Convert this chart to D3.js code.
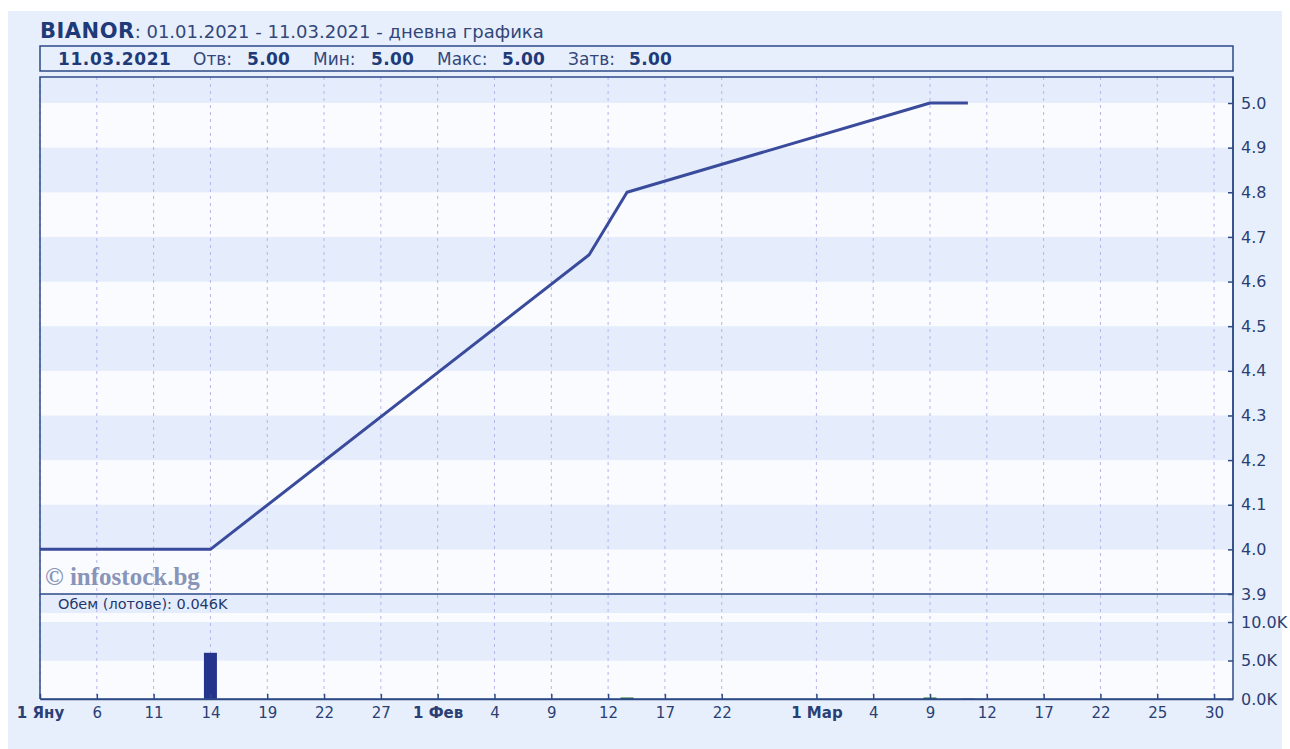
<!DOCTYPE html>
<html><head><meta charset="utf-8">
<script src="https://cdn.jsdelivr.net/npm/d3@7"></script>
<style>
html,body{margin:0;padding:0;background:#fff;}
svg{display:block;}
</style></head>
<body>
<svg id="c" width="1290" height="749"></svg>
<script>
// ---- data ----
const priceDates  = ["2021-01-01","2021-01-14","2021-02-11","2021-02-15","2021-03-09","2021-03-11"];
const priceValues = [4.00, 4.00, 4.66, 4.80, 5.00, 5.00];
const volumeDates  = ["2021-01-14","2021-02-15","2021-03-09","2021-03-11"];
const volumeValues = [6.0, 0.2, 0.2, 0.046]; // thousands of lots
const xTickDates  = ["2021-01-01","2021-01-06","2021-01-11","2021-01-14","2021-01-19","2021-01-22","2021-01-27",
                     "2021-02-01","2021-02-04","2021-02-09","2021-02-12","2021-02-17","2021-02-22",
                     "2021-03-01","2021-03-04","2021-03-09","2021-03-12","2021-03-17","2021-03-22","2021-03-25","2021-03-30"];
const xTickLabels = ["1 Яну","6","11","14","19","22","27","1 Фев","4","9","12","17","22",
                     "1 Мар","4","9","12","17","22","25","30"];
const yTicks = [3.9,4.0,4.1,4.2,4.3,4.4,4.5,4.6,4.7,4.8,4.9,5.0];
const volTicks = [0,5,10];
const titleSymbol = "BIANOR";
const titleRange = ": 01.01.2021 - 11.03.2021 - дневна графика";
const infoItems = [["","11.03.2021"],["Отв:","5.00"],["Мин:","5.00"],["Макс:","5.00"],["Затв:","5.00"]];
const volLabel = "Обем (лотове): 0.046K";

// ---- helpers ----
const start = new Date(Date.UTC(2021,0,1));
function wd(s){ // weekday index since 1 Jan 2021
  const d = new Date(s+"T00:00:00Z"); let n=0;
  for(let t=new Date(start); t<d; t.setUTCDate(t.getUTCDate()+1)){const g=t.getUTCDay(); if(g!==0&&g!==6) n++;}
  return n;
}
const NAVY="#2d4a86", TXT="#24386e", BLUE_BAND="#e5edfc", WHITE_BAND="#fafbff", BG="#e8effc";
const L=40, R=1233, TOP=77, MID=594, BOT=699;

const svg=d3.select("#c");
svg.append("rect").attr("x",8).attr("y",11).attr("width",1274).attr("height",738).attr("fill",BG);

const x=d3.scaleLinear().domain([0,63]).range([L,R]);
const y=d3.scaleLinear().domain([3.9,5.0]).range([MID,103]);
const yv=d3.scaleLinear().domain([0,10]).range([BOT,622]);

// title
const t=svg.append("text").attr("x",40).attr("y",38).attr("font-family","DejaVu Sans").attr("font-size",18).attr("fill",TXT);
t.append("tspan").attr("font-weight","bold").attr("fill","#1f3a78").attr("font-size",21).attr("letter-spacing",0.5).text(titleSymbol);
t.append("tspan").attr("fill","#33477a").text(titleRange);

// info box
svg.append("rect").attr("x",L).attr("y",46).attr("width",R-L).attr("height",25).attr("fill",BG).attr("stroke",NAVY).attr("stroke-width",1.5);
const infoX=[[null,58],[193,247],[313,371],[437,502],[568,629]];
infoItems.forEach((it,i)=>{
  if(it[0]) svg.append("text").attr("x",infoX[i][0]).attr("y",65).attr("font-family","DejaVu Sans").attr("font-size",17).attr("fill","#33477a").text(it[0]);
  svg.append("text").attr("x",infoX[i][1]).attr("y",65).attr("font-family","DejaVu Sans").attr("font-size",17).attr("font-weight","bold")
    .attr("letter-spacing",i===0?0.6:0.3).attr("fill","#1f3a78").text(it[1]);
});

// main plot bands
const bandsG=svg.append("g");
for(let i=0;i<12;i++){
  const v0=3.9+i*0.1, v1=v0+0.1;
  const yTop=Math.max(TOP,y(v1));
  bandsG.append("rect").attr("x",L).attr("width",R-L).attr("y",yTop).attr("height",y(v0)-yTop)
    .attr("fill",i%2===0?WHITE_BAND:BLUE_BAND);
}
// volume bands
const vb=[[0,5,WHITE_BAND],[5,10,BLUE_BAND],[10,15,WHITE_BAND]];
vb.forEach(b=>{const yt=Math.max(613,yv(b[1])); bandsG.append("rect").attr("x",L).attr("width",R-L).attr("y",yt).attr("height",yv(b[0])-yt).attr("fill",b[2]);});
bandsG.append("rect").attr("x",L).attr("width",R-L).attr("y",MID).attr("height",613-MID).attr("fill",BLUE_BAND);

// vertical grid
const tickX=xTickDates.map(d=>x(wd(d)));
svg.append("g").selectAll("line").data(tickX).join("line")
  .attr("x1",d=>d).attr("x2",d=>d).attr("y1",TOP).attr("y2",BOT)
  .attr("stroke","#b4b4ec").attr("stroke-width",1).attr("stroke-dasharray","3,4");

// watermark
svg.append("text").attr("x",45).attr("y",585).attr("font-family","Liberation Serif").attr("font-weight","bold")
  .attr("font-size",25).attr("fill","#8894b8").text("© infostock.bg");

// volume label
svg.append("text").attr("x",58).attr("y",609).attr("font-family","DejaVu Sans").attr("font-size",14.5).attr("fill","#24386e").text(volLabel);

// volume bars
const priceByDate={}; priceDates.forEach((d,i)=>priceByDate[d]=i);
svg.append("g").selectAll("rect").data(volumeDates.map((d,i)=>({d,v:volumeValues[i]}))).join("rect")
  .attr("x",p=>x(wd(p.d))-6.5).attr("width",13)
  .attr("y",p=>yv(p.v)).attr("height",p=>BOT-yv(p.v))
  .attr("fill",p=>{const i=priceByDate[p.d]; return (i>0&&priceValues[i]>priceValues[i-1])?"#2e7d32":"#24348c";});

// price line
const pts=priceDates.map((d,i)=>[x(wd(d)),y(priceValues[i])]);
svg.append("path").attr("d",d3.line()(pts)).attr("fill","none").attr("stroke","#3a4b9c").attr("stroke-width",3).attr("stroke-linejoin","round");

// borders
svg.append("rect").attr("x",L).attr("y",TOP).attr("width",R-L).attr("height",MID-TOP).attr("fill","none").attr("stroke",NAVY).attr("stroke-width",1.5);
svg.append("line").attr("x1",L).attr("x2",L).attr("y1",MID).attr("y2",BOT).attr("stroke",NAVY).attr("stroke-width",1.5);

// right axes
const ax=svg.append("g").attr("transform",`translate(${R},0)`)
  .call(d3.axisRight(y).tickValues(yTicks).tickFormat(d3.format(".1f")).tickSizeInner(-5).tickSizeOuter(0).tickPadding(8));
const ax2=svg.append("g").attr("transform",`translate(${R},0)`)
  .call(d3.axisRight(yv).tickValues(volTicks).tickFormat(d=>d.toFixed(1)+"K").tickSizeInner(-5).tickSizeOuter(0).tickPadding(8));
[ax,ax2].forEach(a=>{a.select(".domain").remove(); a.selectAll("line").attr("stroke",NAVY).attr("stroke-width",1.5);
  a.selectAll("text").attr("font-family","DejaVu Sans").attr("font-size",16).attr("fill","#2b3f75");});
svg.append("line").attr("x1",R).attr("x2",R).attr("y1",TOP).attr("y2",BOT).attr("stroke",NAVY).attr("stroke-width",1.5);

// bottom axis
const bx=svg.append("g").attr("transform",`translate(0,${BOT})`)
  .call(d3.axisBottom(x).tickValues(xTickDates.map(wd)).tickFormat((d,i)=>xTickLabels[i]).tickSizeInner(-5).tickSizeOuter(0).tickPadding(8));
bx.select(".domain").attr("stroke",NAVY).attr("stroke-width",1.5);
bx.selectAll("line").attr("stroke",NAVY).attr("stroke-width",1.5);
bx.selectAll("text").attr("font-family","DejaVu Sans").attr("font-size",15).attr("fill","#2b3f75")
  .attr("font-weight",(d,i)=>xTickLabels[i].startsWith("1 ")?"bold":"normal");
svg.append("line").attr("x1",L).attr("x2",R).attr("y1",BOT).attr("y2",BOT).attr("stroke",NAVY).attr("stroke-width",1.5);
</script>
</body></html>
